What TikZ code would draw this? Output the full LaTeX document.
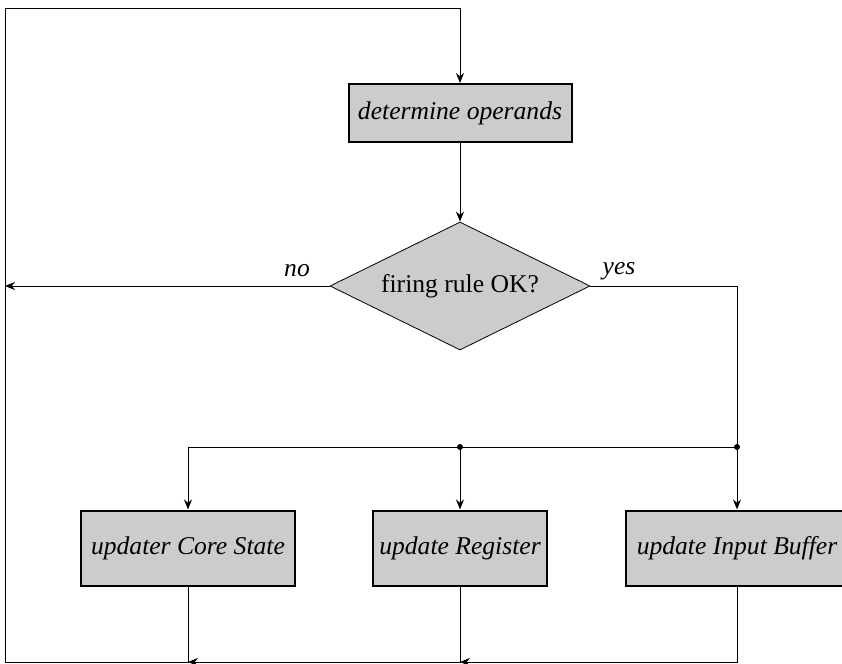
\documentclass[tikz,border=0pt]{standalone}
\usepackage{fontspec}
\setmainfont{Liberation Serif}
\usetikzlibrary{arrows.meta, positioning, shapes.geometric, calc}

\tikzset{
    procbox/.style={rectangle, draw, line width=1pt, fill=black!20, inner xsep=3pt, font=\fontsize{12.8}{14}\selectfont\itshape},
    decision/.style={diamond, draw, fill=black!20, aspect=2, inner sep=0pt, minimum width=130pt, minimum height=64pt, font=\fontsize{12.8}{14}\selectfont},
    flow/.style={line width=0.5pt},
    branchdot/.style={circle, fill, inner sep=0pt, minimum size=3pt}
}

\begin{document}
\begin{tikzpicture}[>={Stealth[length=5pt, width=4pt]}, x=0.5pt, y=-0.5pt]
    \useasboundingbox (0,0) rectangle (842,664);

    % Boxes and decision
    \node[procbox, minimum width=111.5pt, minimum height=29pt] (det) at (460,113) {determine operands};
    \node[decision] (fire) at (460,286) {firing rule OK?};
    \node[procbox, minimum width=107pt, minimum height=37.5pt] (core) at (188,548) {updater Core State};
    \node[procbox, minimum width=87pt, minimum height=37.5pt] (reg) at (460,548) {update Register};
    \node[procbox, minimum width=111pt, minimum height=37.5pt] (buf) at (737,548) {update Input Buffer};

    % Corner points of the loop
    \coordinate (topleft) at (5,8);
    \coordinate (botleft) at (5,662);
    \coordinate (nohit) at (5,286);
    \node[branchdot] (split) at (737,447) {};
    \node[branchdot] (mid) at (460,447) {};

    % Labels of the decision
    \node[font=\fontsize{12.8}{14}\selectfont\itshape] at (297,271) {no};
    \node[font=\fontsize{12.8}{14}\selectfont\itshape] at (619,271) {yes};

    % Forward flow
    \draw[flow, ->] (det) -- (fire);
    \draw[flow, ->] (fire.west) -- (nohit);
    \draw[flow] (fire.east) -| (split.center);
    \draw[flow, ->] (split.center) -- (buf);
    \draw[flow] (split.center) -- (mid.center);
    \draw[flow, ->] (mid.center) -- (reg);
    \draw[flow, ->] (mid.center) -| (core);

    % Back to the start
    \draw[flow, ->] (buf.south) |- (reg.south |- botleft);
    \draw[flow, ->] (reg.south) |- (core.south |- botleft);
    \draw[flow, ->] (core.south) |- (botleft) -- (topleft) -| (det.north);
\end{tikzpicture}
\end{document}
